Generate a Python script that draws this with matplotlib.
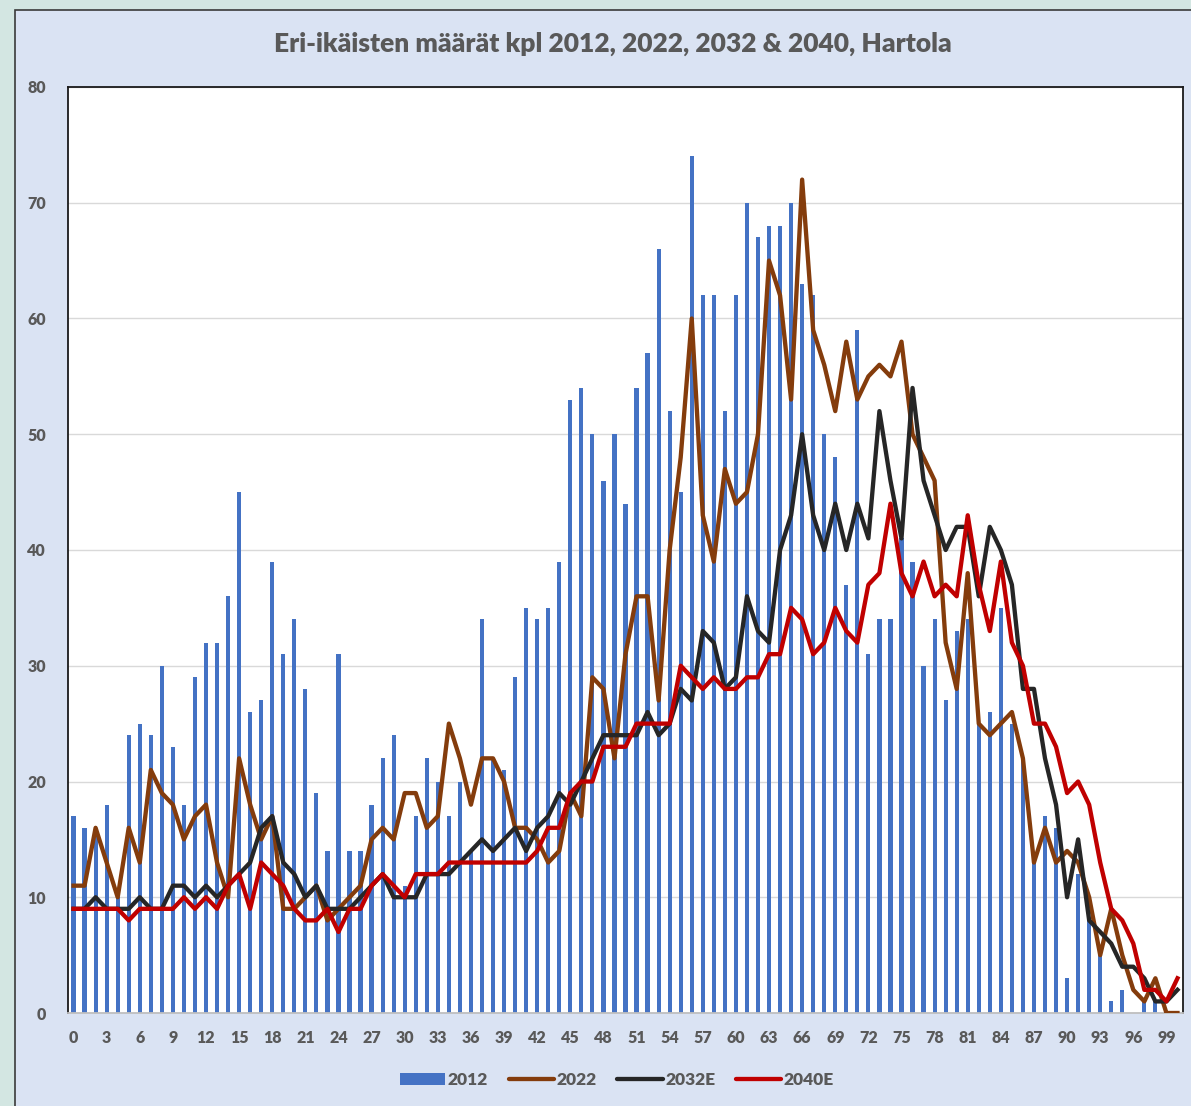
import numpy as np
import matplotlib
matplotlib.use("Agg")
import matplotlib.pyplot as plt
from matplotlib.patches import Rectangle, Patch
from matplotlib.lines import Line2D

ages = list(range(0, 101))

y2012 = [17, 16, 16, 18, 10, 24, 25, 24, 30, 23,
         18, 29, 32, 32, 36, 45, 26, 27, 39, 31,
         34, 28, 19, 14, 31, 14, 14, 18, 22, 24,
         11, 17, 22, 20, 17, 20, 14, 34, 22, 21,
         29, 35, 34, 35, 39, 53, 54, 50, 46, 50,
         44, 54, 57, 66, 52, 45, 74, 62, 62, 52,
         62, 70, 67, 68, 68, 70, 63, 62, 50, 48,
         37, 59, 31, 34, 34, 41, 39, 30, 34, 27,
         33, 34, 25, 26, 35, 25, 22, 13, 17, 16,
         3, 12, 8, 5, 1, 2, 0, 1, 1, 0,
         0]

y2022 = [11, 11, 16, 13, 10, 16, 13, 21, 19, 18,
         15, 17, 18, 13, 10, 22, 18, 15, 17, 9,
         9, 10, 11, 8, 9, 10, 11, 15, 16, 15,
         19, 19, 16, 17, 25, 22, 18, 22, 22, 20,
         16, 16, 15, 13, 14, 19, 17, 29, 28, 22,
         31, 36, 36, 27, 40, 48, 60, 43, 39, 47,
         44, 45, 50, 65, 62, 53, 72, 59, 56, 52,
         58, 53, 55, 56, 55, 58, 50, 48, 46, 32,
         28, 38, 25, 24, 25, 26, 22, 13, 16, 13,
         14, 13, 10, 5, 9, 5, 2, 1, 3, 0,
         0]

y2032 = [9, 9, 10, 9, 9, 9, 10, 9, 9, 11,
         11, 10, 11, 10, 11, 12, 13, 16, 17, 13,
         12, 10, 11, 9, 9, 9, 10, 11, 12, 10,
         10, 10, 12, 12, 12, 13, 14, 15, 14, 15,
         16, 14, 16, 17, 19, 18, 20, 22, 24, 24,
         24, 24, 26, 24, 25, 28, 27, 33, 32, 28,
         29, 36, 33, 32, 40, 43, 50, 43, 40, 44,
         40, 44, 41, 52, 46, 41, 54, 46, 43, 40,
         42, 42, 36, 42, 40, 37, 28, 28, 22, 18,
         10, 15, 8, 7, 6, 4, 4, 3, 1, 1,
         2]

y2040 = [9, 9, 9, 9, 9, 8, 9, 9, 9, 9,
         10, 9, 10, 9, 11, 12, 9, 13, 12, 11,
         9, 8, 8, 9, 7, 9, 9, 11, 12, 11,
         10, 12, 12, 12, 13, 13, 13, 13, 13, 13,
         13, 13, 14, 16, 16, 19, 20, 20, 23, 23,
         23, 25, 25, 25, 25, 30, 29, 28, 29, 28,
         28, 29, 29, 31, 31, 35, 34, 31, 32, 35,
         33, 32, 37, 38, 44, 38, 36, 39, 36, 37,
         36, 43, 37, 33, 39, 32, 30, 25, 25, 23,
         19, 20, 18, 13, 9, 8, 6, 2, 2, 1,
         3]

labels = ["2012", "2022", "2032E", "2040E"]
title = "Eri-ikäisten määrät kpl 2012, 2022, 2032 & 2040, Hartola"

c_bar = "#4472C4"
c_22 = "#843C0C"
c_32 = "#262626"
c_40 = "#C00000"
c_txt = "#595959"

plt.rcParams['font.family'] = ['Lato', 'DejaVu Sans']

fig = plt.figure(figsize=(11.91, 11.06), dpi=100)
fig.patch.set_facecolor("#D3E6E2")
# inner chart panel, kept behind the axes
fig.patches.append(Rectangle((15 / 1191, -0.01), 1.0, 1 - 10 / 1106 + 0.01,
                             transform=fig.transFigure, facecolor="#DAE3F3",
                             edgecolor="#3A3A3A", linewidth=1.2, zorder=-5))

ax = fig.add_axes([68 / 1191, 1 - 1013 / 1106, (1183 - 68) / 1191, (1013 - 87) / 1106])
ax.set_zorder(2)
ax.set_facecolor("white")

x = np.array(ages)
ax.bar(x, y2012, width=0.38, color=c_bar, zorder=2)
lw = 3.1
ax.plot(x, y2022, color=c_22, lw=lw, solid_joinstyle="round", zorder=3)
ax.plot(x, y2032, color=c_32, lw=lw, solid_joinstyle="round", zorder=4)
ax.plot(x, y2040, color=c_40, lw=lw, solid_joinstyle="round", zorder=5)

ax.set_xlim(-0.5, 100.5)
ax.set_ylim(0, 80)
ax.set_yticks(range(0, 81, 10))
ax.set_xticks(range(0, 100, 3))
ax.grid(axis="y", color="#D9D9D9", lw=1.0, zorder=0)
ax.set_axisbelow(True)
ax.tick_params(length=0, labelsize=11.5, labelcolor=c_txt)
ax.tick_params(axis="y", pad=16)
ax.tick_params(axis="x", pad=12)
for t in ax.get_xticklabels() + ax.get_yticklabels():
    t.set_fontweight("heavy")

for s in ["left", "top", "right"]:
    ax.spines[s].set_color("#1A1A1A")
    ax.spines[s].set_linewidth(1.3)
ax.spines["bottom"].set_color("#BFBFBF")
ax.spines["bottom"].set_linewidth(1.3)

fig.text(613 / 1191, 1 - 44 / 1106, title, ha="center", va="center",
         fontsize=19, fontweight="heavy", color=c_txt)

handles = [Patch(facecolor=c_bar, edgecolor="none"),
           Line2D([], [], color=c_22, lw=lw, solid_capstyle="round"),
           Line2D([], [], color=c_32, lw=lw, solid_capstyle="round"),
           Line2D([], [], color=c_40, lw=lw, solid_capstyle="round")]
leg = fig.legend(handles, labels, loc="center", ncol=4,
                 bbox_to_anchor=(617 / 1191, 1 - 1080 / 1106),
                 frameon=False, handlelength=2.6, handleheight=0.7,
                 handletextpad=0.15, columnspacing=1.2,
                 prop={"weight": "heavy", "size": 12.5})
for t in leg.get_texts():
    t.set_color(c_txt)

fig.savefig("out.png", dpi=100, facecolor=fig.get_facecolor())
